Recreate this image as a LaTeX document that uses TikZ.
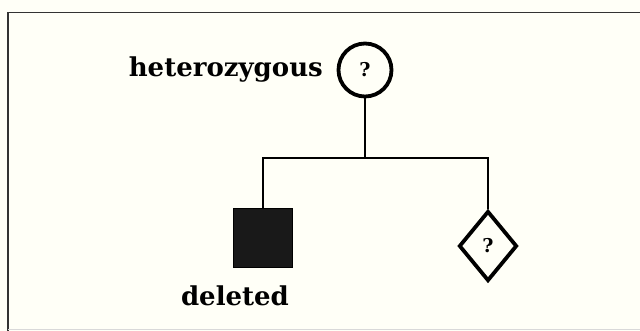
\documentclass[tikz,border=0pt]{standalone}
\usepackage{fontspec}
\setmainfont{DejaVu Serif}
\usetikzlibrary{shapes.geometric}
\begin{document}
\begin{tikzpicture}[x=1pt,y=-1pt,
  conn/.style={line width=2.5pt},
  lbl/.style={font=\fontsize{26}{30}\selectfont\bfseries, inner sep=0pt},
  qmark/.style={font=\fontsize{19}{22}\selectfont\bfseries}]
\useasboundingbox (0,0) rectangle (640,331);
\fill[white!97!yellow] (0,0) rectangle (640,331);
\draw[line width=1.8pt, black!80] (8,340) -- (8,12.5) -- (650,12.5);
\draw[line width=0.8pt, black!15] (8,329.5) -- (650,329.5);
% nodes
\node[circle, draw, line width=3.8pt, minimum size=53pt, inner sep=0pt, qmark] (mother) at (365,70) {?};
\node[lbl, anchor=east] (het) at (323,70) {heterozygous};
\node[draw, fill=black!90, line width=1pt, minimum size=59pt, inner sep=0pt] (son) at (263,238) {};
\node[lbl] (del) at (235,296) {deleted};
\node[diamond, draw, line width=3.8pt, minimum width=58pt, minimum height=70pt, inner sep=0pt, aspect=0.85, qmark] (child) at (488,246) {?};
% connectors
\coordinate (mid) at (365,158);
\coordinate (lt) at (263,158);
\coordinate (rt) at (488,158);
\draw[conn] (mother.south) -- (mid);
\draw[conn] (son.north) -- (lt) -- (rt) -- (child.north);
\end{tikzpicture}
\end{document}
